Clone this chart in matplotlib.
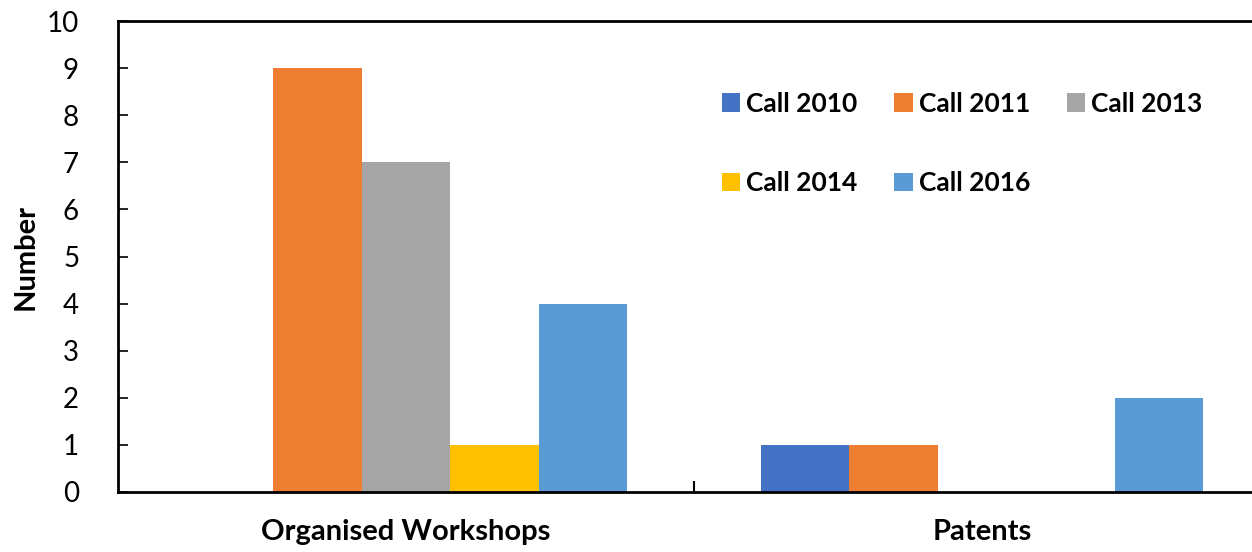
import numpy as np
import matplotlib
matplotlib.use("Agg")
import matplotlib.pyplot as plt

# =============================================
# DATOS
# =============================================
categorias = ["Organised Workshops", "Patents"]
convocatorias = ["Call 2010", "Call 2011", "Call 2013", "Call 2014", "Call 2016"]
call_2010 = [0, 1]
call_2011 = [9, 1]
call_2013 = [7, 0]
call_2014 = [1, 0]
call_2016 = [4, 2]
colores = ["#4472C4", "#ED7D31", "#A5A5A5", "#FFC000", "#5B9BD5"]

series = [call_2010, call_2011, call_2013, call_2014, call_2016]

plt.rcParams["font.family"] = ["Lato", "DejaVu Sans"]

# =============================================
# GRÁFICO
# =============================================
fig = plt.figure(figsize=(12.52, 5.52), dpi=100)
ax = fig.add_axes([118 / 1252, 60 / 552, 1152 / 1252, 471 / 552])

x = np.arange(len(categorias))
ancho = 0.1536
barras = []
for i, (vals, nombre, col) in enumerate(zip(series, convocatorias, colores)):
    b = ax.bar(x + (i - 2) * ancho, vals, ancho, color=col, label=nombre, linewidth=0)
    barras.append(b)

ax.set_xlim(-0.5, 1.5)
ax.set_ylim(0, 10)
ax.set_yticks(range(0, 11))
ax.tick_params(axis="y", direction="in", length=7, width=1.2, labelsize=20, pad=28)
ax.set_xticks([0.5])
ax.set_xticklabels([""])
ax.tick_params(axis="x", direction="in", length=8, width=1.5)
for xi, cat in zip(x, categorias):
    ax.text(xi, -0.57, cat, ha="center", va="top", fontsize=21, fontweight="bold")

ax.set_ylabel("Number", fontsize=21, fontweight="bold", labelpad=6)

for lado in ["top", "left", "bottom"]:
    ax.spines[lado].set_linewidth(2)
    ax.spines[lado].set_color("black")
ax.spines["right"].set_visible(False)

# orden por filas: 2010 2011 2013 / 2014 2016
orden = [0, 3, 1, 4, 2]
leg = ax.legend([barras[k] for k in orden], [convocatorias[k] for k in orden],
                ncol=3, loc="upper left", bbox_to_anchor=(0.515, 0.872),
                frameon=False, prop={"size": 19, "weight": "bold"},
                handlelength=0.7, handleheight=0.7, handletextpad=0.22,
                columnspacing=1.4, labelspacing=2.1, borderaxespad=0)

fig.savefig("out.png", dpi=100)
